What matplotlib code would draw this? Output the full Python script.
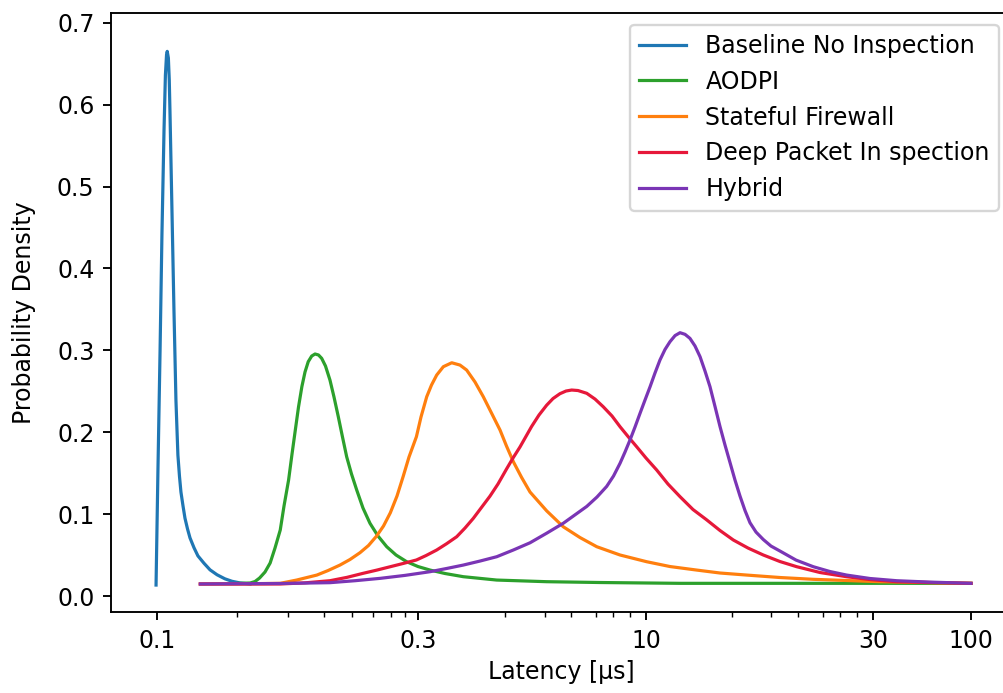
import numpy as np
import matplotlib
matplotlib.use("Agg")
import matplotlib.pyplot as plt

# ---------------- data ----------------
labels = ["Baseline No Inspection", "AODPI", "Stateful Firewall",
          "Deep Packet In spection", "Hybrid"]

baseline_x = [0.0996, 0.1004, 0.1013, 0.1021, 0.1030, 0.1036, 0.1041, 0.1044,
              0.1049, 0.1053, 0.1056, 0.1065, 0.1074, 0.1083, 0.10878, 0.1092,
              0.10993, 0.1106, 0.11157, 0.1125, 0.1137, 0.1149, 0.11685,
              0.1188, 0.12188, 0.1250, 0.12873, 0.1331, 0.13712, 0.1418, 0.1479]
baseline_y = [0.0134, 0.154, 0.300, 0.441, 0.569, 0.636, 0.661, 0.665,
              0.657, 0.630, 0.593, 0.471, 0.349, 0.239, 0.203, 0.172,
              0.146, 0.127, 0.110, 0.095, 0.082, 0.071, 0.059,
              0.049, 0.040, 0.032, 0.026, 0.021, 0.018, 0.016, 0.0147]

aodpi_x = [0.141, 0.148, 0.15106, 0.154, 0.15755, 0.161, 0.16433, 0.168,
           0.17068, 0.174, 0.17653, 0.179, 0.18142, 0.184, 0.18645, 0.189,
           0.19178, 0.1945, 0.19735, 0.200, 0.20325, 0.2071, 0.21065, 0.2145,
           0.21833, 0.2222, 0.22676, 0.2318, 0.2380, 0.2451, 0.2535, 0.263,
           0.27347, 0.286, 0.300, 0.361, 0.4544, 0.602, 1.007, 2.17, 4.93,
           11.79, 32.7, 100.0]
aodpi_y = [0.0155, 0.0159, 0.0177, 0.022, 0.0293, 0.0403, 0.0586, 0.0806,
           0.1099, 0.1416, 0.1734, 0.2027, 0.2308, 0.2556, 0.2735, 0.2861,
           0.2930, 0.2955, 0.2943, 0.2902, 0.2808, 0.2637, 0.2430, 0.2189,
           0.1941, 0.170, 0.1490, 0.1294, 0.1074, 0.0888, 0.0733, 0.0602,
           0.0501, 0.0419, 0.0360, 0.0317, 0.0275, 0.0236, 0.0195, 0.0175,
           0.0165, 0.0155, 0.0155, 0.0155]

stateful_x = [0.120, 0.14182, 0.168, 0.180, 0.196, 0.20541, 0.216, 0.22533,
              0.235, 0.24358, 0.252, 0.25945, 0.267, 0.27462, 0.282, 0.28884,
              0.298, 0.31417, 0.343, 0.36923, 0.400, 0.443, 0.504, 0.572,
              0.634, 0.72085, 0.819, 0.9291, 1.059, 1.1702, 1.30, 1.4738,
              1.68, 2.17, 2.80, 3.6242, 4.69, 6.7053, 10.03, 11.2317, 12.78,
              14.307, 16.28, 19.126, 22.47, 32.7, 100.0]
stateful_y = [0.0147, 0.0149, 0.0155, 0.0195, 0.0256, 0.0311, 0.0378, 0.0446,
              0.0529, 0.0617, 0.0732, 0.0855, 0.1016, 0.1221, 0.1465, 0.1697,
              0.1945, 0.2186, 0.2433, 0.2576, 0.2698, 0.280, 0.2848, 0.282,
              0.2759, 0.2613, 0.2433, 0.2234, 0.2027, 0.1831, 0.164, 0.145,
              0.127, 0.104, 0.0846, 0.0714, 0.0602, 0.0501, 0.0419, 0.036,
              0.0317, 0.0281, 0.0256, 0.0226, 0.0204, 0.0175, 0.0155]

dpi_x = [0.120, 0.1479, 0.168, 0.18644, 0.2071, 0.22249, 0.238, 0.25245,
         0.267, 0.28164, 0.298, 0.33928, 0.400, 0.46503, 0.544, 0.61807,
         0.702, 0.908, 1.0268, 1.17, 1.2932, 1.44, 1.7216, 1.9289, 2.17,
         2.3926, 2.66, 2.9222, 3.19, 3.5144, 4.02, 4.5642, 5.18, 5.9285,
         6.71, 7.5834, 8.67, 10.0, 10.53, 11.1235, 11.79, 12.554, 13.4,
         14.307, 15.26, 16.383, 17.64, 19.126, 20.74, 23.213, 26.4, 29.568,
         40.1, 60.43, 100.0]
dpi_y = [0.0147, 0.0147, 0.0147, 0.0161, 0.0187, 0.0228, 0.0277, 0.0317,
         0.0358, 0.0397, 0.044, 0.0494, 0.0562, 0.0638, 0.0724, 0.0830,
         0.0948, 0.122, 0.1368, 0.155, 0.1685, 0.182, 0.207, 0.2210, 0.233,
         0.2411, 0.247, 0.2503, 0.2515, 0.2509, 0.2475, 0.2405, 0.2311, 0.2198,
         0.2067, 0.1948, 0.1822, 0.1685, 0.1539, 0.1367, 0.1213, 0.1056, 0.0932,
         0.0800, 0.0684, 0.0586, 0.0501, 0.0421, 0.0358, 0.0287, 0.0236, 0.0201,
         0.0175, 0.0165, 0.0155]

hybrid_x = [0.120, 0.168, 0.2071, 0.23012, 0.256, 0.28403, 0.361, 0.46503,
            0.602, 0.77847, 1.007, 1.30, 1.68, 2.17, 2.80, 4.02, 4.7067, 5.46,
            6.0668, 6.71, 7.2410, 7.82, 8.4435, 9.12, 9.8492, 10.2, 10.445,
            10.7, 10.963, 11.23, 11.51, 11.79, 12.08, 12.37, 12.676, 12.99,
            13.305, 13.63, 13.965, 14.31, 14.657, 15.02, 15.384, 15.76, 16.147,
            16.54, 17.030, 17.64, 18.311, 19.13, 20.668, 22.47, 24.364, 26.4,
            29.568, 40.1, 60.43, 100.0]
hybrid_y = [0.0147, 0.0153, 0.0163, 0.0187, 0.0216, 0.0252, 0.0297, 0.0336,
            0.0378, 0.0427, 0.0480, 0.0562, 0.065, 0.0767, 0.0888, 0.1094,
            0.1209, 0.1338, 0.1465, 0.1621, 0.1758, 0.1905, 0.2063, 0.2230,
            0.2393, 0.2556, 0.2723, 0.2882, 0.3010, 0.3105, 0.318, 0.3215,
            0.3195, 0.3146, 0.3053, 0.2922, 0.2747, 0.2556, 0.2314, 0.2067,
            0.1844, 0.1628, 0.1416, 0.1221, 0.1044, 0.0895, 0.0781, 0.0690,
            0.0610, 0.0549, 0.0439, 0.0358, 0.0299, 0.0256, 0.0214, 0.0187,
            0.0170, 0.0155]

xtick_values = [0.1, 0.3, 10, 30, 100]
xtick_labels = ["0.1", "0.3", "10", "30", "100"]
ytick_values = [0.0, 0.1, 0.2, 0.3, 0.4, 0.5, 0.6, 0.7]

# ---------------- style / layout ----------------
colors = ["#1f77b4", "#2ca02c", "#ff7f0e", "#e6183a", "#7a35b5"]
DPI = 170
W, H = 1003, 693

# positions of the labelled ticks along the axis (non-uniform axis of the original)
TICK_POS_PX = np.array([157.0, 418.0, 646.0, 873.0, 971.0])
POS_ANCH = (TICK_POS_PX - TICK_POS_PX[0]) / (TICK_POS_PX[1] - TICK_POS_PX[0])
LOG_ANCH = np.log10(np.array(xtick_values, dtype=float))
S_LO = (POS_ANCH[1] - POS_ANCH[0]) / (LOG_ANCH[1] - LOG_ANCH[0])
S_HI = (POS_ANCH[-1] - POS_ANCH[-2]) / (LOG_ANCH[-1] - LOG_ANCH[-2])


def fwd(x):
    x = np.asarray(x, dtype=float)
    with np.errstate(divide="ignore", invalid="ignore"):
        l = np.log10(np.where(x > 0, x, np.nan))
        u = np.interp(l, LOG_ANCH, POS_ANCH)
        u = np.where(l < LOG_ANCH[0], POS_ANCH[0] + (l - LOG_ANCH[0]) * S_LO, u)
        u = np.where(l > LOG_ANCH[-1], POS_ANCH[-1] + (l - LOG_ANCH[-1]) * S_HI, u)
    return u


def inv(u):
    u = np.asarray(u, dtype=float)
    with np.errstate(invalid="ignore", over="ignore"):
        l = np.interp(u, POS_ANCH, LOG_ANCH)
        l = np.where(u < POS_ANCH[0], LOG_ANCH[0] + (u - POS_ANCH[0]) / S_LO, l)
        l = np.where(u > POS_ANCH[-1], LOG_ANCH[-1] + (u - POS_ANCH[-1]) / S_HI, l)
    return 10.0 ** l


# minor-tick fractions within each labelled segment
MINOR_FRACS = [[0.305, 0.503, 0.641, 0.748, 0.829, 0.896, 0.950],
               [0.382, 0.556, 0.671, 0.782, 0.855, 0.931],
               [0.378, 0.551, 0.671, 0.781, 0.855, 0.929],
               []]
minor_u = []
for i, fr in enumerate(MINOR_FRACS):
    for f in fr:
        minor_u.append(POS_ANCH[i] + f * (POS_ANCH[i + 1] - POS_ANCH[i]))
minor_vals = inv(np.array(minor_u))

plt.rcParams["font.family"] = ["DejaVu Sans"]
plt.rcParams["font.size"] = 10

fig = plt.figure(figsize=(W / DPI, H / DPI), dpi=DPI)
ax_left, ax_right, ax_top, ax_bot = 111, 1011, 12.7, 612
ax = fig.add_axes([ax_left / W, 1 - ax_bot / H, (ax_right - ax_left) / W,
                   (ax_bot - ax_top) / H])
ax.set_xscale("function", functions=(fwd, inv))

series = [(baseline_x, baseline_y), (aodpi_x, aodpi_y), (stateful_x, stateful_y),
          (dpi_x, dpi_y), (hybrid_x, hybrid_y)]
for (xs, ys), lab, c in zip(series, labels, colors):
    ax.plot(xs, ys, color=c, lw=1.35, label=lab, solid_joinstyle="round")

unit = TICK_POS_PX[1] - TICK_POS_PX[0]
xl = float(inv((ax_left - TICK_POS_PX[0]) / unit))
xr = float(inv((ax_right - TICK_POS_PX[0]) / unit))
ax.set_xlim(xl, xr)
ax.set_ylim(-0.0195, 0.7122)

ax.set_xticks(xtick_values, xtick_labels)
ax.set_xticks(minor_vals, minor=True)
ax.xaxis.set_minor_formatter(matplotlib.ticker.NullFormatter())
ax.set_yticks(ytick_values, [f"{v:.1f}" for v in ytick_values])

ax.set_xlabel("Latency [µs]", labelpad=3)
ax.set_ylabel("Probability Density", labelpad=9)

ax.legend(loc="upper right")

fig.savefig("out.png", dpi=DPI)
